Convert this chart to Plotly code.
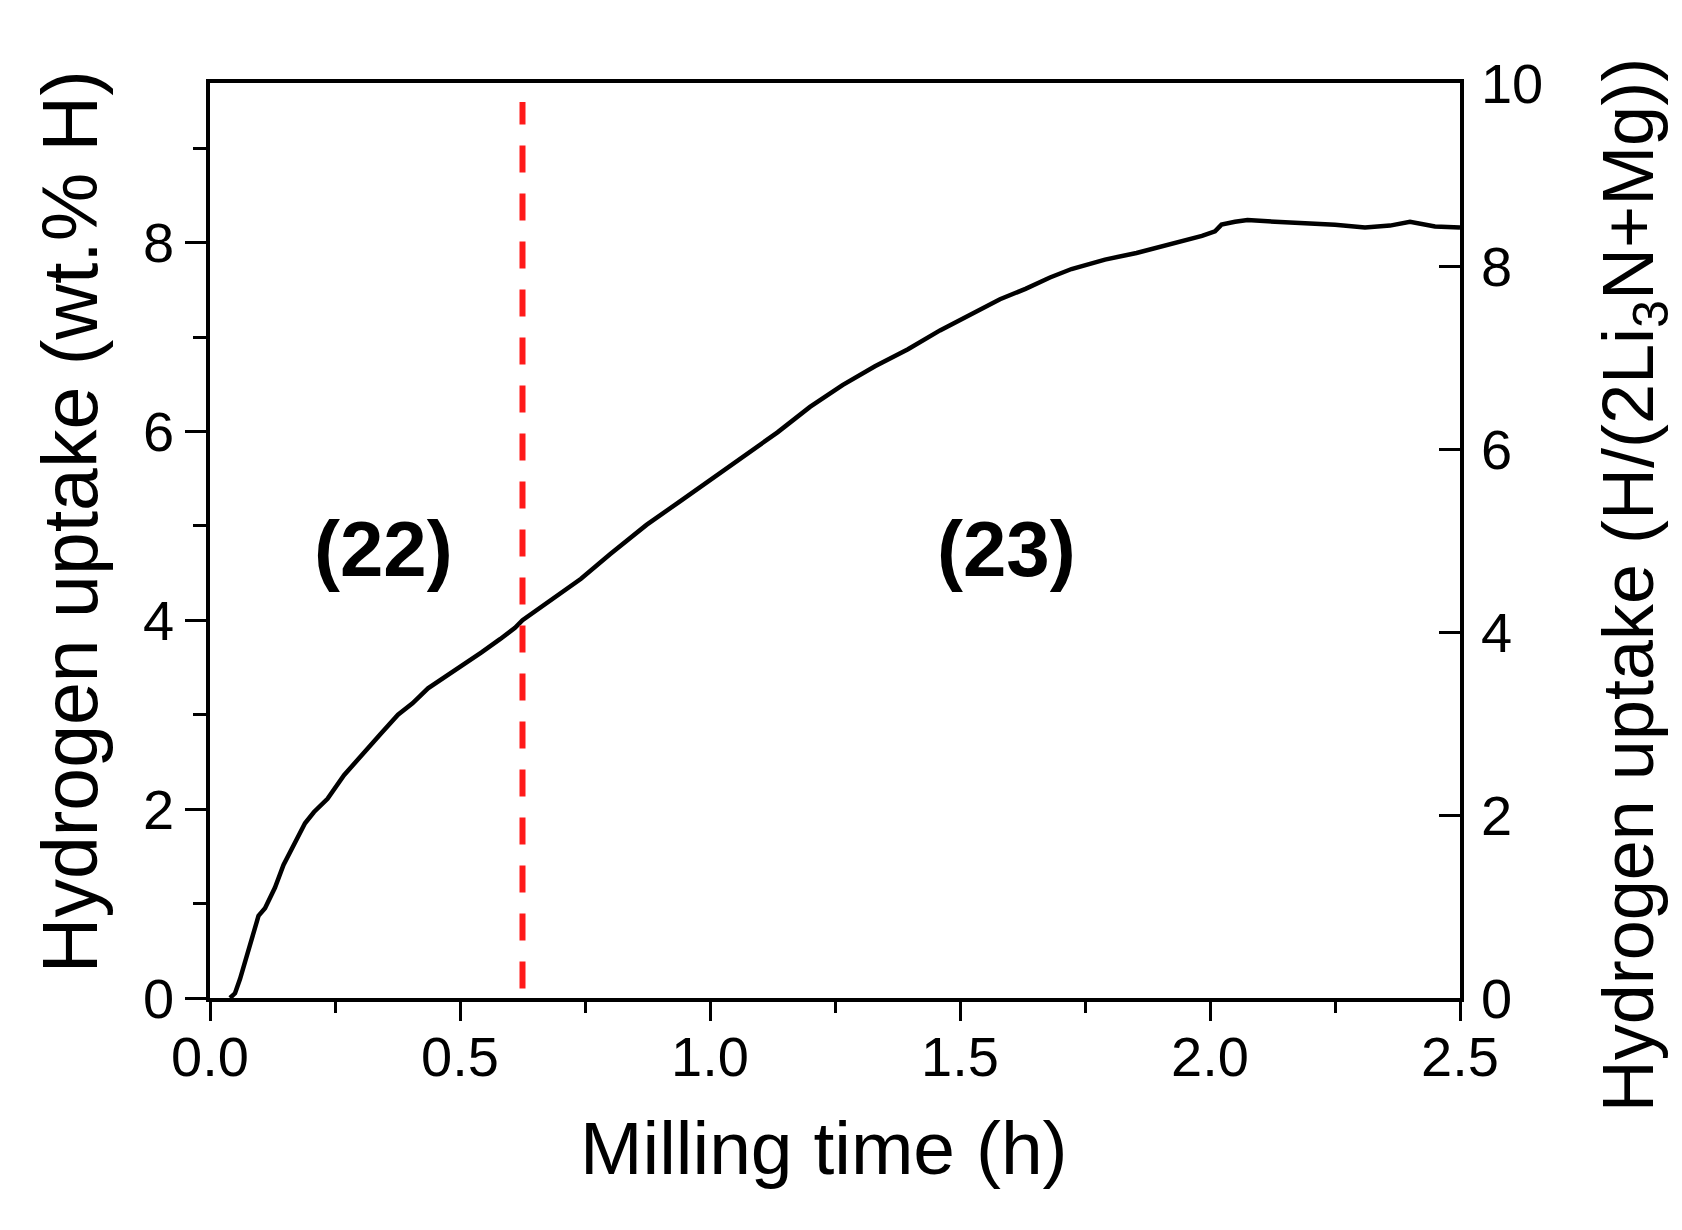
import plotly.graph_objects as go

# ---- data ----
time_h = [0.040, 0.050, 0.060, 0.070, 0.080, 0.090, 0.097, 0.110, 0.130, 0.147,
          0.170, 0.190, 0.208, 0.235, 0.268, 0.302, 0.342, 0.376, 0.405, 0.436,
          0.465, 0.489, 0.515, 0.543, 0.580, 0.610, 0.625, 0.660, 0.700, 0.742,
          0.800, 0.873, 0.940, 1.004, 1.070, 1.135, 1.200, 1.265, 1.330, 1.396,
          1.460, 1.527, 1.580, 1.631, 1.680, 1.723, 1.790, 1.853, 1.920, 1.984,
          2.010, 2.023, 2.050, 2.075, 2.130, 2.180, 2.250, 2.310, 2.360, 2.400,
          2.450, 2.500]
uptake_wt = [0.00, 0.05, 0.20, 0.38, 0.57, 0.76, 0.87, 0.95, 1.17, 1.41,
             1.65, 1.85, 1.97, 2.11, 2.36, 2.57, 2.80, 3.00, 3.12, 3.28,
             3.38, 3.47, 3.56, 3.66, 3.80, 3.92, 4.00, 4.13, 4.28, 4.44,
             4.70, 5.01, 5.26, 5.50, 5.76, 5.99, 6.26, 6.49, 6.69, 6.87,
             7.07, 7.26, 7.40, 7.51, 7.63, 7.72, 7.82, 7.89, 7.98, 8.07,
             8.12, 8.19, 8.22, 8.24, 8.22, 8.21, 8.19, 8.16, 8.18, 8.22,
             8.17, 8.16]

split_x = [0.625, 0.625]
split_y = [0.1, 9.49]

region_labels = ["(22)", "(23)"]
region_x = [0.347, 1.593]
region_y = [4.75, 4.75]

x_range = [0, 2.5]
y_left_range = [0, 9.69]
y_right_range = [0, 10]

x_title = "Milling time (h)"
y_left_title = "Hydrogen uptake (wt.% H)"
y_right_title = "Hydrogen uptake (H/(2Li<sub>3</sub>N+Mg))"

FONT = "Arial, 'Liberation Sans', sans-serif"

fig = go.Figure()
fig.add_trace(go.Scatter(x=time_h, y=uptake_wt, mode="lines",
                         line=dict(color="black", width=4.5), showlegend=False))
fig.add_trace(go.Scatter(x=split_x, y=split_y, mode="lines",
                         line=dict(color="#ff1a1a", width=6, dash="27px,21px"),
                         showlegend=False))
# invisible trace to activate right axis
fig.add_trace(go.Scatter(x=[x_range[0]], y=[y_right_range[0]], yaxis="y2",
                         mode="markers", marker=dict(opacity=0), showlegend=False,
                         hoverinfo="skip"))

for lab, xx, yy in zip(region_labels, region_x, region_y):
    fig.add_annotation(x=xx, y=yy, xref="x", yref="y", text=lab, showarrow=False,
                       font=dict(family=FONT, size=78, color="black", weight="bold"))

# axis titles placed as annotations for precise positioning
fig.add_annotation(x=0.491, y=0, xref="paper", yref="paper", yshift=-150,
                   xanchor="center", yanchor="middle", text=x_title, showarrow=False,
                   font=dict(family=FONT, size=75, color="black"))
fig.add_annotation(x=0, y=0.520, xref="paper", yref="paper", xshift=-140,
                   xanchor="center", yanchor="middle", textangle=-90,
                   text=y_left_title, showarrow=False,
                   font=dict(family=FONT, size=77, color="black"))
fig.add_annotation(x=1, y=0.451, xref="paper", yref="paper", xshift=173,
                   xanchor="center", yanchor="middle", textangle=-90,
                   text=y_right_title, showarrow=False,
                   font=dict(family=FONT, size=72, color="black"))

axis_common = dict(showline=True, linecolor="black", linewidth=3.5, showgrid=False,
                   zeroline=False, tickcolor="black", tickwidth=3,
                   tickfont=dict(family=FONT, size=56, color="black"))

fig.update_layout(
    width=1682, height=1230,
    margin=dict(l=202, r=230, t=75, b=240),
    paper_bgcolor="white", plot_bgcolor="white",
    xaxis=dict(range=x_range, tick0=0, dtick=0.5, ticks="outside", ticklen=19,
               tickformat=".1f", mirror=True, ticklabelstandoff=-12,
               minor=dict(dtick=0.25, tick0=0, ticks="outside", ticklen=11,
                          tickwidth=3, tickcolor="black"),
               **axis_common),
    yaxis=dict(range=y_left_range, tick0=0, dtick=2, ticks="outside", ticklen=21,
               minor=dict(dtick=1, tick0=0, ticks="outside", ticklen=13,
                          tickwidth=3, tickcolor="black"),
               **axis_common),
    yaxis2=dict(range=y_right_range, tick0=0, dtick=2, ticks="inside", ticklen=21,
                overlaying="y", side="right", ticklabelstandoff=6,
                **axis_common),
)

fig.write_html("out.html")
